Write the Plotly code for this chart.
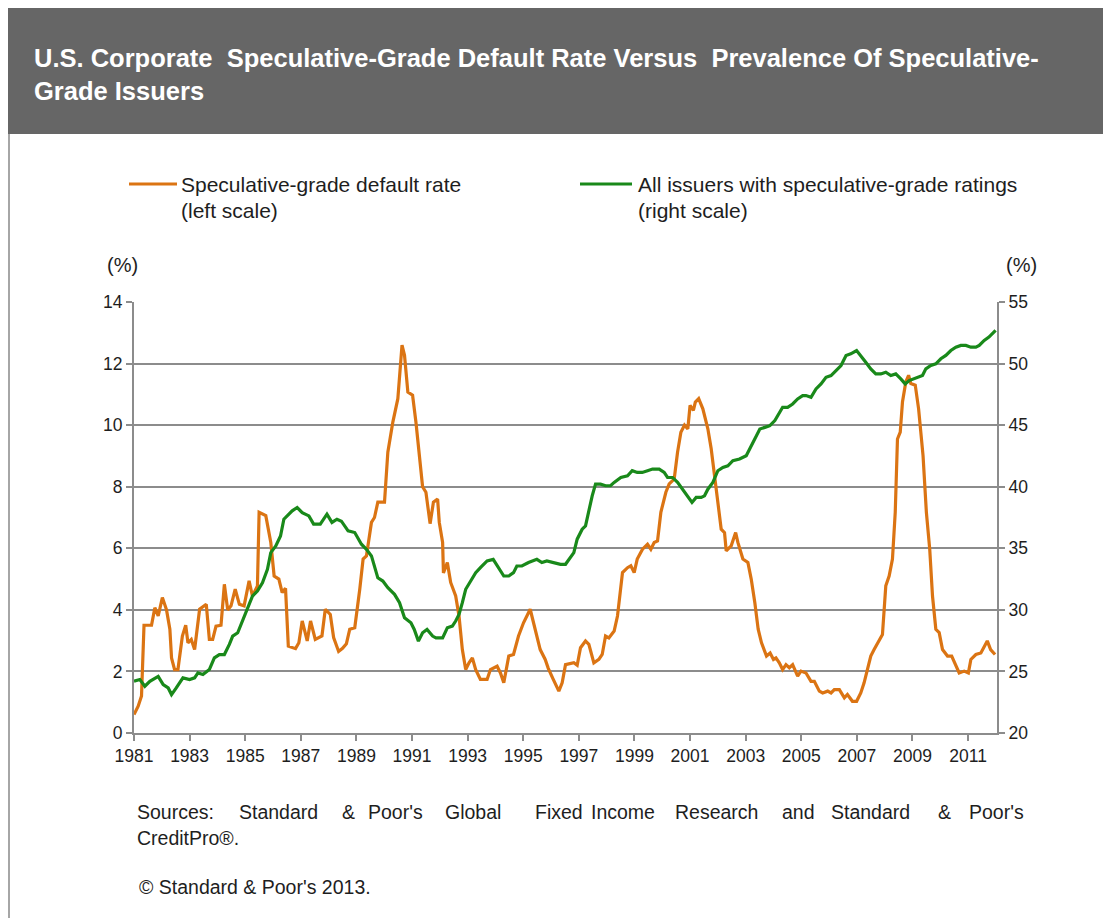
import plotly.graph_objects as go

# Speculative-grade default rate (left scale)
default_dates = [
    1981.00, 1981.15, 1981.27, 1981.36, 1981.63, 1981.75, 1981.87, 1982.02, 1982.17, 1982.29,
    1982.35, 1982.46, 1982.58, 1982.74, 1982.86, 1982.94, 1983.06, 1983.18, 1983.36, 1983.60,
    1983.71, 1983.83, 1983.95, 1984.13, 1984.25, 1984.37, 1984.49, 1984.64, 1984.79, 1984.96,
    1985.14, 1985.26, 1985.44, 1985.50, 1985.74, 1985.92, 1986.04, 1986.21, 1986.33, 1986.45,
    1986.55, 1986.81, 1986.93, 1987.05, 1987.23, 1987.35, 1987.52, 1987.76, 1987.88, 1988.06,
    1988.18, 1988.36, 1988.50, 1988.64, 1988.76, 1988.94, 1989.12, 1989.24, 1989.36, 1989.54,
    1989.65, 1989.77, 1990.01, 1990.13, 1990.31, 1990.49, 1990.64, 1990.73, 1990.85, 1991.02,
    1991.14, 1991.26, 1991.38, 1991.50, 1991.65, 1991.77, 1991.92, 1991.98, 1992.10, 1992.13,
    1992.27, 1992.39, 1992.57, 1992.69, 1992.81, 1992.93, 1993.05, 1993.17, 1993.29, 1993.46,
    1993.70, 1993.82, 1994.06, 1994.18, 1994.30, 1994.48, 1994.65, 1994.83, 1995.01, 1995.25,
    1995.43, 1995.61, 1995.79, 1995.90, 1996.08, 1996.28, 1996.40, 1996.52, 1996.82, 1996.94,
    1997.06, 1997.24, 1997.36, 1997.54, 1997.72, 1997.84, 1997.96, 1998.08, 1998.27, 1998.39,
    1998.57, 1998.75, 1998.87, 1998.99, 1999.10, 1999.29, 1999.47, 1999.59, 1999.71, 1999.83,
    1999.95, 2000.13, 2000.25, 2000.43, 2000.55, 2000.67, 2000.80, 2000.92, 2001.00, 2001.12,
    2001.19, 2001.31, 2001.46, 2001.64, 2001.76, 2001.88, 2002.00, 2002.12, 2002.24, 2002.30,
    2002.48, 2002.64, 2002.72, 2002.90, 2003.08, 2003.20, 2003.33, 2003.45, 2003.57, 2003.75,
    2003.88, 2004.00, 2004.09, 2004.21, 2004.33, 2004.45, 2004.57, 2004.69, 2004.87, 2004.99,
    2005.17, 2005.35, 2005.47, 2005.65, 2005.77, 2005.95, 2006.07, 2006.19, 2006.37, 2006.55,
    2006.66, 2006.84, 2006.99, 2007.14, 2007.26, 2007.38, 2007.50, 2007.62, 2007.80, 2007.92,
    2008.04, 2008.16, 2008.28, 2008.38, 2008.46, 2008.56, 2008.64, 2008.76, 2008.86, 2008.94,
    2009.10, 2009.22, 2009.38, 2009.50, 2009.62, 2009.72, 2009.84, 2009.96, 2010.08, 2010.26,
    2010.41, 2010.56, 2010.68, 2010.86, 2011.01, 2011.10, 2011.28, 2011.46, 2011.57, 2011.69,
    2011.81, 2011.97,
]
default_rate = [
    0.60, 0.87, 1.20, 3.50, 3.50, 4.07, 3.80, 4.40, 4.00, 3.37,
    2.44, 2.06, 2.06, 3.15, 3.50, 2.93, 3.04, 2.71, 4.02, 4.18,
    3.04, 3.04, 3.47, 3.50, 4.83, 4.00, 4.13, 4.67, 4.18, 4.13,
    4.94, 4.45, 4.78, 7.17, 7.06, 6.19, 5.10, 5.00, 4.56, 4.70,
    2.82, 2.74, 2.93, 3.64, 2.99, 3.64, 3.04, 3.15, 4.02, 3.85,
    3.10, 2.65, 2.75, 2.90, 3.37, 3.42, 4.67, 5.65, 5.75, 6.84,
    7.00, 7.50, 7.50, 9.12, 10.10, 10.86, 12.60, 12.27, 11.07, 10.97,
    10.10, 9.00, 8.00, 7.82, 6.80, 7.50, 7.60, 6.84, 6.19, 5.20,
    5.54, 4.89, 4.45, 3.80, 2.71, 2.06, 2.28, 2.44, 2.06, 1.74,
    1.74, 2.06, 2.17, 1.95, 1.63, 2.50, 2.55, 3.15, 3.58, 4.02,
    3.37, 2.71, 2.39, 2.10, 1.74, 1.36, 1.63, 2.22, 2.28, 2.20,
    2.77, 2.99, 2.88, 2.28, 2.39, 2.55, 3.15, 3.09, 3.31, 3.80,
    5.21, 5.37, 5.43, 5.21, 5.65, 5.97, 6.13, 5.97, 6.19, 6.24,
    7.17, 7.82, 8.09, 8.25, 9.12, 9.77, 10.00, 9.88, 10.64, 10.48,
    10.75, 10.86, 10.53, 9.88, 9.23, 8.36, 7.50, 6.62, 6.51, 5.92,
    6.08, 6.51, 6.19, 5.65, 5.54, 5.00, 4.23, 3.37, 2.93, 2.50,
    2.60, 2.39, 2.44, 2.28, 2.06, 2.22, 2.12, 2.22, 1.85, 2.01,
    1.95, 1.68, 1.68, 1.36, 1.30, 1.36, 1.30, 1.41, 1.41, 1.14,
    1.25, 1.03, 1.03, 1.30, 1.63, 2.06, 2.50, 2.71, 2.99, 3.20,
    4.78, 5.10, 5.65, 7.17, 9.55, 9.77, 10.75, 11.40, 11.62, 11.35,
    11.30, 10.53, 9.01, 7.17, 5.97, 4.45, 3.37, 3.26, 2.71, 2.50,
    2.50, 2.17, 1.95, 2.01, 1.95, 2.39, 2.55, 2.60, 2.77, 2.99,
    2.71, 2.55,
]

# All issuers with speculative-grade ratings (right scale)
issuer_dates = [
    1981.00, 1981.21, 1981.39, 1981.57, 1981.87, 1982.05, 1982.23, 1982.35, 1982.52, 1982.76,
    1983.00, 1983.18, 1983.30, 1983.48, 1983.71, 1983.89, 1984.07, 1984.25, 1984.43, 1984.55,
    1984.73, 1984.90, 1985.08, 1985.26, 1985.44, 1985.62, 1985.80, 1985.92, 1986.10, 1986.27,
    1986.39, 1986.57, 1986.69, 1986.87, 1987.05, 1987.29, 1987.46, 1987.70, 1987.94, 1988.12,
    1988.30, 1988.46, 1988.70, 1988.94, 1989.18, 1989.36, 1989.54, 1989.77, 1989.95, 1990.13,
    1990.37, 1990.55, 1990.73, 1990.96, 1991.08, 1991.23, 1991.38, 1991.54, 1991.74, 1991.86,
    1992.10, 1992.27, 1992.45, 1992.57, 1992.69, 1992.81, 1992.93, 1993.11, 1993.29, 1993.46,
    1993.70, 1993.92, 1994.12, 1994.30, 1994.48, 1994.65, 1994.77, 1994.95, 1995.19, 1995.49,
    1995.67, 1995.85, 1996.09, 1996.34, 1996.52, 1996.70, 1996.82, 1996.94, 1997.12, 1997.24,
    1997.36, 1997.48, 1997.60, 1997.78, 1997.96, 1998.14, 1998.27, 1998.51, 1998.75, 1998.92,
    1999.10, 1999.28, 1999.47, 1999.65, 1999.89, 2000.07, 2000.19, 2000.37, 2000.55, 2000.73,
    2000.91, 2001.07, 2001.22, 2001.40, 2001.52, 2001.64, 2001.82, 2002.00, 2002.18, 2002.36,
    2002.54, 2002.78, 2003.02, 2003.20, 2003.39, 2003.51, 2003.69, 2003.87, 2004.05, 2004.15,
    2004.33, 2004.51, 2004.69, 2004.87, 2005.05, 2005.17, 2005.35, 2005.53, 2005.71, 2005.89,
    2006.07, 2006.25, 2006.43, 2006.61, 2006.78, 2006.99, 2007.14, 2007.32, 2007.50, 2007.68,
    2007.86, 2008.04, 2008.22, 2008.40, 2008.58, 2008.74, 2008.88, 2009.06, 2009.24, 2009.36,
    2009.48, 2009.66, 2009.84, 2010.02, 2010.20, 2010.38, 2010.56, 2010.74, 2010.92, 2011.10,
    2011.28, 2011.40, 2011.58, 2011.75, 2011.99,
]
issuer_share = [
    24.20, 24.34, 23.80, 24.20, 24.60, 23.93, 23.66, 23.12, 23.66, 24.48,
    24.34, 24.48, 24.88, 24.75, 25.15, 26.10, 26.37, 26.37, 27.19, 27.87,
    28.14, 29.09, 30.17, 31.12, 31.53, 32.20, 33.29, 34.65, 35.19, 36.00,
    37.36, 37.77, 38.04, 38.31, 37.90, 37.63, 36.96, 36.96, 37.77, 37.10,
    37.36, 37.20, 36.41, 36.28, 35.33, 34.92, 34.38, 32.60, 32.34, 31.80,
    31.26, 30.58, 29.36, 28.95, 28.41, 27.46, 28.14, 28.41, 27.87, 27.73,
    27.73, 28.55, 28.68, 29.09, 29.63, 30.58, 31.67, 32.34, 33.02, 33.43,
    33.97, 34.10, 33.43, 32.75, 32.75, 33.02, 33.56, 33.56, 33.84, 34.10,
    33.84, 33.97, 33.84, 33.70, 33.70, 34.24, 34.65, 35.74, 36.55, 36.82,
    38.18, 39.26, 40.21, 40.21, 40.08, 40.08, 40.35, 40.75, 40.89, 41.30,
    41.16, 41.16, 41.30, 41.43, 41.43, 41.16, 40.75, 40.75, 40.35, 39.80,
    39.26, 38.72, 39.13, 39.13, 39.26, 39.80, 40.35, 41.30, 41.57, 41.70,
    42.11, 42.25, 42.52, 43.33, 44.15, 44.69, 44.82, 44.96, 45.37, 45.77,
    46.45, 46.45, 46.72, 47.13, 47.40, 47.40, 47.26, 47.94, 48.35, 48.89,
    49.03, 49.43, 49.84, 50.66, 50.79, 51.06, 50.66, 50.11, 49.57, 49.16,
    49.16, 49.30, 49.03, 49.16, 48.76, 48.35, 48.62, 48.76, 48.89, 49.03,
    49.57, 49.84, 49.98, 50.39, 50.66, 51.06, 51.33, 51.47, 51.47, 51.33,
    51.33, 51.47, 51.88, 52.15, 52.69,
]

year_ticks = list(range(1981, 2012, 2))
left_ticks = [0, 2, 4, 6, 8, 10, 12, 14]
right_ticks = [20, 25, 30, 35, 40, 45, 50, 55]

orange = '#DB7413'
green = '#19891A'
axis_grey = '#8C8C8C'
txt = '#1E1E1E'
font_name = 'Liberation Sans, Arial, sans-serif'

# the page puts the figure 8px in from the top left corner, so the figure is
# drawn 8px smaller and all positions below are given in page pixels
PAGE_W, PAGE_H, OFF = 1111, 918, 8
L, R, T, B = 134, 997, 302, 733  # plot area in page pixels


def px_x(p):
    return (p - L) / (R - L)


def px_y(p):
    return (B - p) / (B - T)


fig = go.Figure()
fig.add_trace(go.Scatter(x=default_dates, y=default_rate, mode='lines',
                         line=dict(color=orange, width=3.2), yaxis='y',
                         name='Speculative-grade default rate'))
fig.add_trace(go.Scatter(x=issuer_dates, y=issuer_share, mode='lines',
                         line=dict(color=green, width=3.2), yaxis='y2',
                         name='All issuers with speculative-grade ratings'))

shapes = [
    # grey title band
    dict(type='rect', xref='paper', yref='paper', x0=px_x(0), x1=px_x(1111),
         y0=px_y(0), y1=px_y(134), fillcolor='#666666', line=dict(width=0), layer='below'),
    # frame line on the left
    dict(type='line', xref='paper', yref='paper', x0=px_x(9), x1=px_x(9),
         y0=px_y(134), y1=px_y(918), line=dict(color='#A6A6A6', width=2)),
    # legend samples
    dict(type='line', xref='paper', yref='paper', x0=px_x(129), x1=px_x(177),
         y0=px_y(184), y1=px_y(184), line=dict(color=orange, width=3)),
    dict(type='line', xref='paper', yref='paper', x0=px_x(580), x1=px_x(632),
         y0=px_y(184), y1=px_y(184), line=dict(color=green, width=3)),
]

annotations = []


def note(text, x, y, size=20, anchor='left', color=txt, bold=False):
    annotations.append(dict(
        text=f'<b>{text}</b>' if bold else text, xref='paper', yref='paper',
        x=px_x(x), y=px_y(y), xanchor=anchor, yanchor='middle', showarrow=False,
        align='left', font=dict(family=font_name, size=size, color=color)))


note('U.S. Corporate  Speculative-Grade Default Rate Versus  Prevalence Of Speculative-'
     '<br>Grade Issuers', 32, 75, size=25.5, color='white', bold=True)

note('Speculative-grade default rate', 179, 184, size=21)
note('(left scale)', 179, 210, size=21)
note('All issuers with speculative-grade ratings', 636, 184, size=21)
note('(right scale)', 636, 210, size=21)

note('(%)', 122, 265, anchor='center')
note('(%)', 1021, 265, anchor='center')

# justified source line, word by word
source_words = ['Sources:', 'Standard', '&', "Poor's", 'Global', 'Fixed', 'Income',
                'Research', 'and', 'Standard', '&', "Poor's"]
source_x = [135, 237, 340, 366, 443, 533, 589, 673, 780, 829, 936, 967]
for w, xw in zip(source_words, source_x):
    note(w, xw, 812, size=19.5)
note('CreditPro®.', 135, 838, size=19.5)
note("© Standard & Poor's 2013.", 137, 887, size=19.5)

fig.update_layout(
    width=PAGE_W - OFF, height=PAGE_H - OFF,
    margin=dict(l=L - OFF, r=PAGE_W - R, t=T - OFF, b=PAGE_H - B),
    paper_bgcolor='white', plot_bgcolor='white',
    showlegend=False,
    font=dict(family=font_name, size=17, color=txt),
    xaxis=dict(range=[1981, 2012.04], tickvals=year_ticks, ticks='outside', ticklen=6,
               tickcolor=axis_grey, tickwidth=1.5, showline=True, linecolor=axis_grey,
               linewidth=2, showgrid=False, zeroline=False,
               tickfont=dict(size=17.5, color=txt)),
    yaxis=dict(range=[0, 14], tickvals=left_ticks, ticks='outside', ticklen=6,
               tickcolor=axis_grey, tickwidth=1.5, showline=True, linecolor=axis_grey,
               linewidth=2, showgrid=True, gridcolor=axis_grey, gridwidth=1.5,
               zeroline=False, tickfont=dict(size=17.5, color=txt)),
    yaxis2=dict(range=[20, 55], tickvals=right_ticks, overlaying='y', side='right',
                ticks='outside', ticklen=6, tickcolor=axis_grey, tickwidth=1.5,
                showline=True, linecolor=axis_grey, linewidth=2, showgrid=False,
                zeroline=False, tickfont=dict(size=17.5, color=txt)),
    shapes=shapes,
    annotations=annotations,
)

fig.write_html('out.html')
